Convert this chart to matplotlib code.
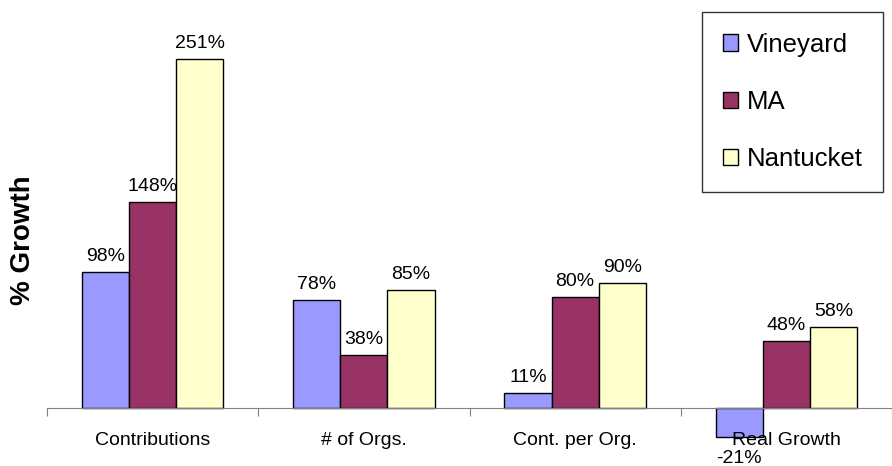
import numpy as np
import matplotlib
matplotlib.use('Agg')
import matplotlib.pyplot as plt

plt.rcParams['font.family'] = ['Liberation Sans', 'DejaVu Sans']

categories = ['Contributions', '# of Orgs.', 'Cont. per Org.', 'Real Growth']
vineyard = [98, 78, 11, -21]
ma = [148, 38, 80, 48]
nantucket = [251, 85, 90, 58]

series = [('Vineyard', vineyard, '#9999FF'),
          ('MA', ma, '#993366'),
          ('Nantucket', nantucket, '#FFFFCC')]

fig = plt.figure(figsize=(8.92, 4.66), dpi=100)
ax = fig.add_axes([47 / 892, 0, 845 / 892, 1])

index = np.arange(len(categories))
bar_width = 0.2235

for i, (name, vals, col) in enumerate(series):
    pos = index + (i - 1) * bar_width
    ax.bar(pos, vals, bar_width, color=col, edgecolor='black',
           linewidth=1, label=name)
    for x, v in zip(pos, vals):
        if v >= 0:
            ax.annotate('%d%%' % v, (x, v), xytext=(0, 5), textcoords='offset points',
                        ha='center', va='bottom', fontsize=14)
        else:
            ax.annotate('%d%%' % v, (x, v), xytext=(0, -9), textcoords='offset points',
                        ha='center', va='top', fontsize=14)

ax.set_xlim(-0.5, 3.476)
ax.set_ylim(-41.7, 293.5)

for s in ['left', 'right', 'top']:
    ax.spines[s].set_visible(False)
ax.spines['bottom'].set_position(('data', 0))
ax.spines['bottom'].set_color('#808080')
ax.set_yticks([])

ax.set_xticks(np.arange(-0.5, 4, 1))
ax.set_xticklabels([])
ax.tick_params(axis='x', which='major', direction='out', length=6, color='#808080')
ax.set_xticks(index, minor=True)
ax.set_xticklabels(categories, minor=True, fontsize=14)
ax.tick_params(axis='x', which='minor', length=0, pad=17.5)

fig.text(23 / 892, 0.485, '% Growth', rotation=90, ha='center', va='center',
         fontsize=20, fontweight='bold')

leg = ax.legend(loc='upper left', bbox_to_anchor=(702 / 892, 1 - 12 / 466),
                bbox_transform=fig.transFigure, borderaxespad=0, fontsize=18.5,
                handlelength=0.6, handleheight=0.6, handletextpad=0.35,
                labelspacing=1.3, borderpad=0.8, fancybox=False, frameon=True)
leg.get_frame().set_edgecolor('black')
leg.get_frame().set_linewidth(1)

plt.savefig('out.png', dpi=100)
